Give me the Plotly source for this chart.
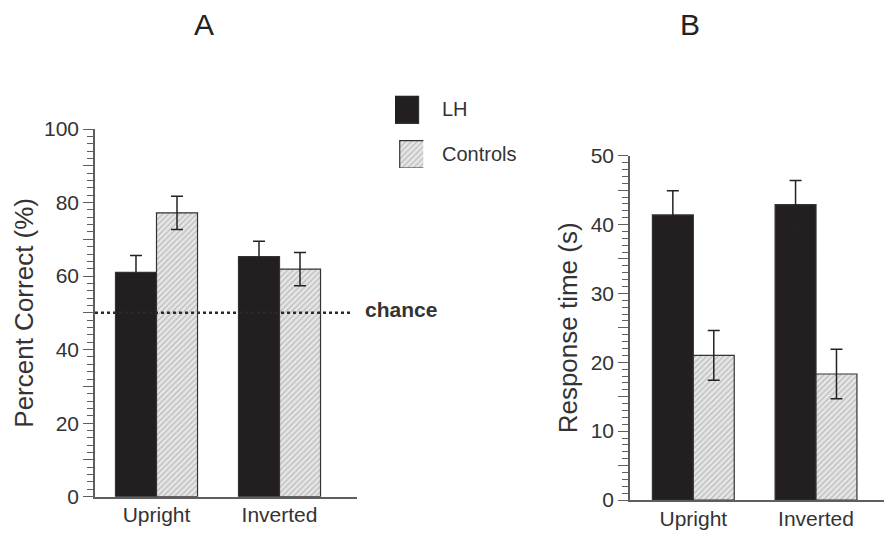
import plotly.graph_objects as go

conditions = ["Upright", "Inverted"]
groups = ["LH", "Controls"]

# Panel A: percent correct
pc_lh = [61.0, 65.3]
pc_lh_err = [4.6, 4.2]
pc_ctrl = [77.2, 61.9]
pc_ctrl_err = [4.5, 4.5]
chance_level = 50

# Panel B: response time (s)
rt_lh = [41.4, 42.9]
rt_lh_err = [3.5, 3.5]
rt_ctrl = [21.0, 18.3]
rt_ctrl_err = [3.6, 3.6]

pc_ticks = [0, 10, 20, 30, 40, 50, 60, 70, 80, 90, 100]
pc_ticktext = ["0", "", "20", "", "40", "", "60", "", "80", "", "100"]
rt_ticks = [0, 5, 10, 15, 20, 25, 30, 35, 40, 45, 50]
rt_ticktext = ["0", "", "10", "", "20", "", "30", "", "40", "", "50"]

FONT = "Liberation Sans, Arial, Helvetica, sans-serif"
BLACK = "#231f20"
AX = "#5e5e5e"
TXT = "#333333"
hatch = dict(shape="/", bgcolor="#e6e6e6", fgcolor="#8c8c8c", size=4, solidity=0.3)
outline = dict(color="#333333", width=1.2)

W, H = 884, 533

def px(x):
    return x / W

def py(y):
    return 1 - y / H

fig = go.Figure()

# Panel A
fig.add_trace(go.Bar(x=conditions, y=pc_lh, name=groups[0], marker=dict(color=BLACK, line=outline),
                     error_y=dict(type="data", array=pc_lh_err, color="#222", thickness=1.5, width=6),
                     xaxis="x", yaxis="y", showlegend=False))
fig.add_trace(go.Bar(x=conditions, y=pc_ctrl, name=groups[1],
                     marker=dict(color="#e6e6e6", pattern=hatch, line=outline),
                     error_y=dict(type="data", array=pc_ctrl_err, color="#222", thickness=1.5, width=6),
                     xaxis="x", yaxis="y", showlegend=False))
# Panel B
fig.add_trace(go.Bar(x=conditions, y=rt_lh, name=groups[0], marker=dict(color=BLACK, line=outline),
                     error_y=dict(type="data", array=rt_lh_err, color="#222", thickness=1.5, width=6),
                     xaxis="x2", yaxis="y2", showlegend=False))
fig.add_trace(go.Bar(x=conditions, y=rt_ctrl, name=groups[1],
                     marker=dict(color="#e6e6e6", pattern=hatch, line=outline),
                     error_y=dict(type="data", array=rt_ctrl_err, color="#222", thickness=1.5, width=6),
                     xaxis="x2", yaxis="y2", showlegend=False))

# Legend swatches (drawn as bars on a small auxiliary axis)
fig.add_trace(go.Bar(x=[0], y=[0.382], base=[0.618], width=[1], marker=dict(color=BLACK, line=outline),
                     xaxis="x3", yaxis="y3", showlegend=False, hoverinfo="skip"))
fig.add_trace(go.Bar(x=[0], y=[0.378], base=[0], width=[1],
                     marker=dict(color="#e6e6e6", pattern=hatch, line=outline),
                     xaxis="x3", yaxis="y3", showlegend=False, hoverinfo="skip"))

tickfont = dict(family=FONT, size=21, color=TXT)
yaxis_common = dict(showline=True, linecolor=AX, linewidth=1.5, ticks="outside", ticklen=10,
                    tickcolor=AX, tickwidth=1.2, showgrid=False, zeroline=False,
                    tickfont=tickfont, fixedrange=True, automargin=False)
xaxis_common = dict(showline=True, linecolor=AX, linewidth=1.5, ticks="", showgrid=False,
                    zeroline=False, tickfont=tickfont, fixedrange=True, automargin=False)

fig.update_layout(
    width=W, height=H,
    margin=dict(l=0, r=0, t=0, b=0, pad=0, autoexpand=False),
    paper_bgcolor="white", plot_bgcolor="white",
    barmode="group", bargap=0.333, bargroupgap=0,
    font=dict(family=FONT, color=TXT),
    xaxis=dict(xaxis_common, domain=[px(95), px(357)], range=[-0.5, 1.63], anchor="y",
               ticklabelstandoff=-2),
    yaxis=dict(yaxis_common, domain=[py(496.7), py(129)], range=[0, 100], anchor="x",
               tickvals=pc_ticks, ticktext=pc_ticktext,
               minor=dict(dtick=2, ticklen=6, tickcolor=AX, ticks="outside", tickwidth=1),
               title=dict(text="Percent Correct (%)", font=dict(family=FONT, size=26, color=TXT), standoff=3)),
    xaxis2=dict(xaxis_common, domain=[px(630), 1.0], range=[-0.516, 1.554], anchor="y2",
                ticklabelstandoff=-1),
    yaxis2=dict(yaxis_common, domain=[py(500), py(155.7)], range=[0, 50], anchor="x2",
                tickvals=rt_ticks, ticktext=rt_ticktext,
                minor=dict(dtick=1, ticklen=6, tickcolor=AX, ticks="outside", tickwidth=1),
                title=dict(text="Response time (s)", font=dict(family=FONT, size=26, color=TXT), standoff=6)),
    xaxis3=dict(domain=[px(395), px(423.3)], range=[-0.5, 0.5], visible=False, anchor="y3", fixedrange=True),
    yaxis3=dict(domain=[py(168), py(95.7)], range=[0, 1], visible=False, anchor="x3", fixedrange=True),
)

# chance line
fig.add_shape(type="line", xref="x domain", yref="y", x0=0, x1=(353 - 95) / (357 - 95),
              y0=chance_level, y1=chance_level, line=dict(color="#2a2a2a", width=2.5, dash="dot"),
              layer="above")
fig.add_annotation(text="<b>chance</b>", xref="paper", yref="y", x=px(363), y=chance_level + 0.8,
                   xanchor="left", yanchor="middle", showarrow=False,
                   font=dict(family=FONT, size=21, color="#333"))

# legend labels
fig.add_annotation(text=groups[0], xref="paper", yref="paper", x=px(440), y=py(109),
                   xanchor="left", yanchor="middle", showarrow=False,
                   font=dict(family=FONT, size=20, color=TXT))
fig.add_annotation(text=groups[1], xref="paper", yref="paper", x=px(440), y=py(154),
                   xanchor="left", yanchor="middle", showarrow=False,
                   font=dict(family=FONT, size=20, color=TXT))

# panel letters
fig.add_annotation(text="A", xref="paper", yref="paper", x=px(204), y=py(24),
                   xanchor="center", yanchor="middle", showarrow=False,
                   font=dict(family=FONT, size=30, color="#222"))
fig.add_annotation(text="B", xref="paper", yref="paper", x=px(690), y=py(24),
                   xanchor="center", yanchor="middle", showarrow=False,
                   font=dict(family=FONT, size=30, color="#222"))

fig.write_html("out.html")
